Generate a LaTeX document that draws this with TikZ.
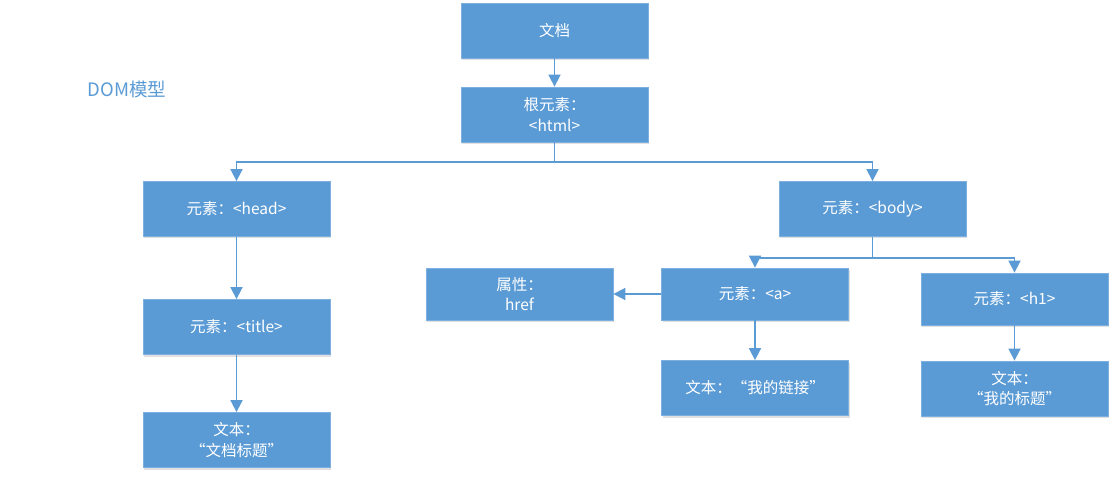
\documentclass[tikz,border=0pt]{standalone}
\usepackage{fontspec}
\setmainfont{Noto Sans CJK SC}
\usetikzlibrary{arrows.meta,shadows}
\definecolor{boxblue}{HTML}{5B9BD5}
\definecolor{boxedge}{HTML}{7DB0E0}
\begin{document}
\begin{tikzpicture}[x=1pt,y=-1pt,
  box/.style={rectangle, fill=boxblue, draw=boxedge, line width=0.8pt,
    minimum width=187pt, minimum height=55pt, inner sep=0pt,
    text=white, align=center, font=\fontsize{15.5}{20.5}\selectfont,
    drop shadow={shadow xshift=1pt, shadow yshift=-2pt, opacity=0.12, fill=black}},
  sbox/.style={box, minimum height=52pt},
  arr/.style={draw=boxblue, line width=1.7pt, -{Triangle[width=12pt,length=12pt]}},
  ln/.style={draw=boxblue, line width=1.7pt}]
\useasboundingbox (0,0) rectangle (1116,478);
\fill[white] (0,0) rectangle (1116,478);

\node[text=boxblue, font=\fontsize{18.5}{22}\selectfont] (title) at (127,89) {DOM模型};

\node[box] (doc) at (554.5,30.5) {文档};
\node[box] (root) at (554.5,114.5) {根元素：\\<html>};
\node[box] (head) at (236.5,209) {元素：<head>};
\node[box] (body) at (872.5,209) {元素：<body>};
\node[box] (ttl) at (236.5,327) {元素：<title>};
\node[box] (ttext) at (236.5,440) {文本：\\“文档标题”};
\node[sbox] (href) at (519.5,294) {属性：\\href};
\node[sbox] (a) at (755,294) {元素：<a>};
\node[sbox] (h1) at (1014.5,299) {元素：<h1>};
\node[box] (atext) at (755,388) {文本：“我的链接”};
\node[box] (htext) at (1014.5,388.5) {文本：\\“我的标题”};

\coordinate (j1) at (554.5,162);
\coordinate (j2) at (872.5,258);

\draw[arr] (doc) -- (root);
\draw[ln] (root) -- (j1);
\draw[arr] (j1) -| (head);
\draw[arr] (j1) -| (body);
\draw[arr] (head) -- (ttl);
\draw[arr] (ttl) -- (ttext);
\draw[ln] (body) -- (j2);
\draw[arr] (j2) -| (a);
\draw[arr] (j2) -| (h1);
\draw[arr] (a) -- (href);
\draw[arr] (a) -- (atext);
\draw[arr] (h1) -- (htext);
\end{tikzpicture}
\end{document}
